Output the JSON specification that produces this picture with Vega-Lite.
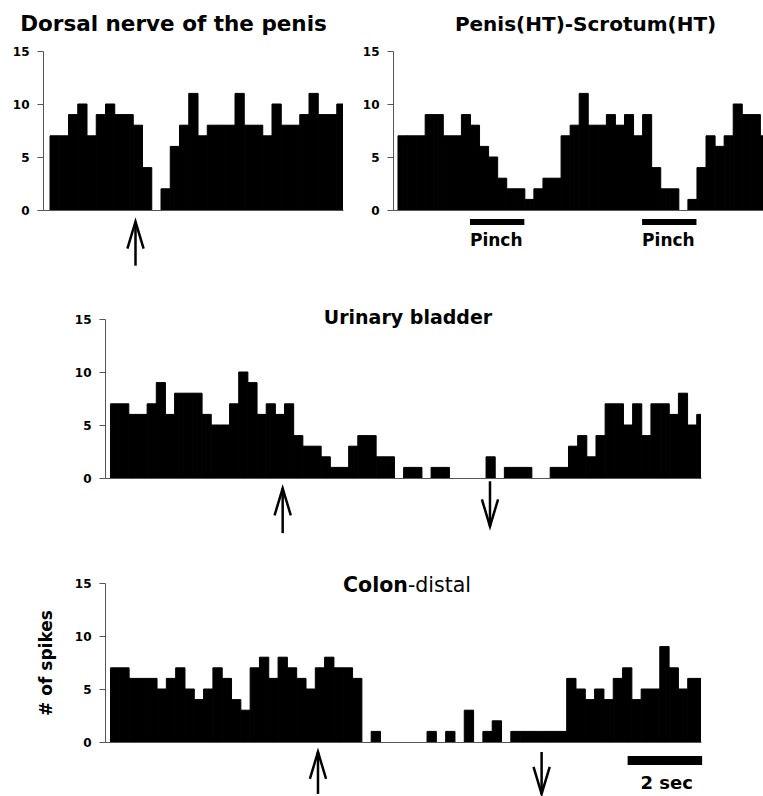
{
  "$schema": "https://vega.github.io/schema/vega-lite/v6.json",
  "background": "white",
  "padding": {"left": 12, "top": 13, "right": 0, "bottom": 0},
  "config": {
    "view": {"stroke": null},
    "axis": {"labelFont": "DejaVu Sans", "labelFontWeight": "bold", "labelFontSize": 12, "labelColor": "black", "domainColor": "#555", "tickColor": "#555", "tickSize": 6, "labelPadding": 8, "grid": false, "titleFont": "DejaVu Sans"}
  },
  "datasets": {
    "p1": [
      {"t":0,"n":7},{"t":0.25,"n":7},{"t":0.5,"n":9},{"t":0.75,"n":10},{"t":1,"n":7},{"t":1.25,"n":9},{"t":1.5,"n":10},{"t":1.75,"n":9},
      {"t":2,"n":9},{"t":2.25,"n":8},{"t":2.5,"n":4},{"t":2.75,"n":0},{"t":3,"n":2},{"t":3.25,"n":6},{"t":3.5,"n":8},{"t":3.75,"n":11},
      {"t":4,"n":7},{"t":4.25,"n":8},{"t":4.5,"n":8},{"t":4.75,"n":8},{"t":5,"n":11},{"t":5.25,"n":8},{"t":5.5,"n":8},{"t":5.75,"n":7},
      {"t":6,"n":10},{"t":6.25,"n":8},{"t":6.5,"n":8},{"t":6.75,"n":9},{"t":7,"n":11},{"t":7.25,"n":9},{"t":7.5,"n":9},{"t":7.75,"n":10}
    ],
    "p2": [
      {"t":0,"n":7},{"t":0.25,"n":7},{"t":0.5,"n":7},{"t":0.75,"n":9},{"t":1,"n":9},{"t":1.25,"n":7},{"t":1.5,"n":7},{"t":1.75,"n":9},
      {"t":2,"n":8},{"t":2.25,"n":6},{"t":2.5,"n":5},{"t":2.75,"n":3},{"t":3,"n":2},{"t":3.25,"n":2},{"t":3.5,"n":1},{"t":3.75,"n":2},
      {"t":4,"n":3},{"t":4.25,"n":3},{"t":4.5,"n":7},{"t":4.75,"n":8},{"t":5,"n":11},{"t":5.25,"n":8},{"t":5.5,"n":8},{"t":5.75,"n":9},
      {"t":6,"n":8},{"t":6.25,"n":9},{"t":6.5,"n":7},{"t":6.75,"n":9},{"t":7,"n":4},{"t":7.25,"n":2},{"t":7.5,"n":2},{"t":7.75,"n":0},
      {"t":8,"n":1},{"t":8.25,"n":4},{"t":8.5,"n":7},{"t":8.75,"n":6},{"t":9,"n":7},{"t":9.25,"n":10},{"t":9.5,"n":9},{"t":9.75,"n":9},
      {"t":10,"n":7}
    ],
    "p3": [
      {"t":0,"n":7},{"t":0.25,"n":7},{"t":0.5,"n":6},{"t":0.75,"n":6},{"t":1,"n":7},{"t":1.25,"n":9},{"t":1.5,"n":6},{"t":1.75,"n":8},
      {"t":2,"n":8},{"t":2.25,"n":8},{"t":2.5,"n":6},{"t":2.75,"n":5},{"t":3,"n":5},{"t":3.25,"n":7},{"t":3.5,"n":10},{"t":3.75,"n":9},
      {"t":4,"n":6},{"t":4.25,"n":7},{"t":4.5,"n":6},{"t":4.75,"n":7},{"t":5,"n":4},{"t":5.25,"n":3},{"t":5.5,"n":3},{"t":5.75,"n":2},
      {"t":6,"n":1},{"t":6.25,"n":1},{"t":6.5,"n":3},{"t":6.75,"n":4},{"t":7,"n":4},{"t":7.25,"n":2},{"t":7.5,"n":2},{"t":7.75,"n":0},
      {"t":8,"n":1},{"t":8.25,"n":1},{"t":8.5,"n":0},{"t":8.75,"n":1},{"t":9,"n":1},{"t":9.25,"n":0},{"t":9.5,"n":0},{"t":9.75,"n":0},
      {"t":10,"n":0},{"t":10.25,"n":2},{"t":10.5,"n":0},{"t":10.75,"n":1},{"t":11,"n":1},{"t":11.25,"n":1},{"t":11.5,"n":0},{"t":11.75,"n":0},
      {"t":12,"n":1},{"t":12.25,"n":1},{"t":12.5,"n":3},{"t":12.75,"n":4},{"t":13,"n":2},{"t":13.25,"n":4},{"t":13.5,"n":7},{"t":13.75,"n":7},
      {"t":14,"n":5},{"t":14.25,"n":7},{"t":14.5,"n":4},{"t":14.75,"n":7},{"t":15,"n":7},{"t":15.25,"n":6},{"t":15.5,"n":8},{"t":15.75,"n":5},
      {"t":16,"n":6}
    ],
    "p4": [
      {"t":0,"n":7},{"t":0.25,"n":7},{"t":0.5,"n":6},{"t":0.75,"n":6},{"t":1,"n":6},{"t":1.25,"n":5},{"t":1.5,"n":6},{"t":1.75,"n":7},
      {"t":2,"n":5},{"t":2.25,"n":4},{"t":2.5,"n":5},{"t":2.75,"n":7},{"t":3,"n":6},{"t":3.25,"n":4},{"t":3.5,"n":3},{"t":3.75,"n":7},
      {"t":4,"n":8},{"t":4.25,"n":6},{"t":4.5,"n":8},{"t":4.75,"n":7},{"t":5,"n":6},{"t":5.25,"n":5},{"t":5.5,"n":7},{"t":5.75,"n":8},
      {"t":6,"n":7},{"t":6.25,"n":7},{"t":6.5,"n":6},{"t":6.75,"n":0},{"t":7,"n":1},{"t":7.25,"n":0},{"t":7.5,"n":0},{"t":7.75,"n":0},
      {"t":8,"n":0},{"t":8.25,"n":0},{"t":8.5,"n":1},{"t":8.75,"n":0},{"t":9,"n":1},{"t":9.25,"n":0},{"t":9.5,"n":3},{"t":9.75,"n":0},
      {"t":10,"n":1},{"t":10.25,"n":2},{"t":10.5,"n":0},{"t":10.75,"n":1},{"t":11,"n":1},{"t":11.25,"n":1},{"t":11.5,"n":1},{"t":11.75,"n":1},
      {"t":12,"n":1},{"t":12.25,"n":6},{"t":12.5,"n":5},{"t":12.75,"n":4},{"t":13,"n":5},{"t":13.25,"n":4},{"t":13.5,"n":6},{"t":13.75,"n":7},
      {"t":14,"n":4},{"t":14.25,"n":5},{"t":14.5,"n":5},{"t":14.75,"n":9},{"t":15,"n":7},{"t":15.25,"n":5},{"t":15.5,"n":6},{"t":15.75,"n":6}
    ]
  },
  "spacing": 41,
  "vconcat": [
    {
      "hconcat": [
        {
          "width": 300, "height": 159,
          "layer": [
            {
              "data": {"name": "p1"},
              "transform": [{"filter": "datum.n > 0"}],
              "mark": {"type": "bar", "color": "black", "stroke": "black", "strokeWidth": 1, "binSpacing": 0, "clip": true},
              "encoding": {
                "x": {"field": "t", "type": "quantitative", "bin": {"binned": true, "step": 0.25}, "scale": {"domain": [-0.176, 7.932], "nice": false, "zero": false}, "axis": {"labels": false, "ticks": false, "title": null, "domain": true}},
                "y": {"field": "n", "type": "quantitative", "scale": {"domain": [0, 15], "nice": false}, "axis": {"values": [0, 5, 10, 15], "title": null}}
              }
            },
            {
              "data": {"values": [{"t": 2.324}]},
              "mark": {"type": "rule", "color": "black", "strokeWidth": 2.5},
              "encoding": {"x": {"field": "t", "type": "quantitative"}, "y": {"datum": -1.1}, "y2": {"datum": -5.25}}
            },
            {
              "data": {"values": [{"t": 2.324}]},
              "mark": {"type": "point", "shape": "M-0.6,2L0,0L0.6,2", "size": 729, "filled": false, "stroke": "black", "strokeWidth": 2.5, "opacity": 1},
              "encoding": {"x": {"field": "t", "type": "quantitative"}, "y": {"datum": -1.1}}
            },
            {
              "data": {"values": [{"label": "Dorsal nerve of the penis"}]},
              "mark": {"type": "text", "font": "DejaVu Sans", "fontWeight": "bold", "fontSize": 21.5, "align": "center", "baseline": "alphabetic", "color": "black"},
              "encoding": {"x": {"datum": 3.351}, "y": {"datum": 16.89}, "text": {"field": "label"}}
            }
          ]
        },
        {
          "width": 370, "height": 159,
          "layer": [
            {
              "data": {"name": "p2"},
              "transform": [{"filter": "datum.n > 0"}],
              "mark": {"type": "bar", "color": "black", "stroke": "black", "strokeWidth": 1, "binSpacing": 0, "clip": true},
              "encoding": {
                "x": {"field": "t", "type": "quantitative", "bin": {"binned": true, "step": 0.25}, "scale": {"domain": [-0.124, 10.086], "nice": false, "zero": false}, "axis": {"labels": false, "ticks": false, "title": null, "domain": true}},
                "y": {"field": "n", "type": "quantitative", "scale": {"domain": [0, 15], "nice": false}, "axis": {"values": [0, 5, 10, 15], "title": null}}
              }
            },
            {
              "data": {"values": [{"start": 2.0, "end": 3.5, "label": "Pinch"}, {"start": 6.75, "end": 8.25, "label": "Pinch"}]},
              "layer": [
                {
                  "mark": {"type": "rule", "color": "black", "strokeWidth": 6},
                  "encoding": {"x": {"field": "start", "type": "quantitative"}, "x2": {"field": "end"}, "y": {"datum": -1.13}}
                },
                {
                  "mark": {"type": "text", "font": "DejaVu Sans", "fontWeight": "bold", "fontSize": 17, "align": "left", "baseline": "alphabetic", "color": "black"},
                  "encoding": {"x": {"field": "start", "type": "quantitative"}, "y": {"datum": -3.37}, "text": {"field": "label"}}
                }
              ]
            },
            {
              "data": {"values": [{"label": "Penis(HT)-Scrotum(HT)"}]},
              "mark": {"type": "text", "font": "DejaVu Sans", "fontWeight": "bold", "fontSize": 20, "align": "center", "baseline": "alphabetic", "color": "black"},
              "encoding": {"x": {"datum": 5.19}, "y": {"datum": 16.85}, "text": {"field": "label"}}
            }
          ]
        }
      ],
      "spacing": 50,
      "bounds": "flush"
    },
    {
      "hconcat": [
        {"width": 62, "height": 1, "data": {"values": []}, "mark": "point"},
        {
          "width": 596, "height": 159,
          "layer": [
            {
              "data": {"name": "p3"},
              "transform": [{"filter": "datum.n > 0"}],
              "mark": {"type": "bar", "color": "black", "stroke": "black", "strokeWidth": 1, "binSpacing": 0, "clip": true},
              "encoding": {
                "x": {"field": "t", "type": "quantitative", "bin": {"binned": true, "step": 0.25}, "scale": {"domain": [-0.136, 16.13], "nice": false, "zero": false}, "axis": {"labels": false, "ticks": false, "title": null, "domain": true}},
                "y": {"field": "n", "type": "quantitative", "scale": {"domain": [0, 15], "nice": false}, "axis": {"values": [0, 5, 10, 15], "title": null}}
              }
            },
            {
              "data": {"values": [{"t": 4.713}]},
              "layer": [
                {"mark": {"type": "rule", "color": "black", "strokeWidth": 2.5}, "encoding": {"x": {"field": "t", "type": "quantitative"}, "y": {"datum": -0.97}, "y2": {"datum": -5.2}}},
                {"mark": {"type": "point", "shape": "M-0.6,2L0,0L0.6,2", "size": 729, "filled": false, "stroke": "black", "strokeWidth": 2.5, "opacity": 1}, "encoding": {"x": {"field": "t", "type": "quantitative"}, "y": {"datum": -0.97}}}
              ]
            },
            {
              "data": {"values": [{"t": 10.371}]},
              "layer": [
                {"mark": {"type": "rule", "color": "black", "strokeWidth": 2.5}, "encoding": {"x": {"field": "t", "type": "quantitative"}, "y": {"datum": -0.31}, "y2": {"datum": -4.56}}},
                {"mark": {"type": "point", "shape": "M-0.6,-2L0,0L0.6,-2", "size": 729, "filled": false, "stroke": "black", "strokeWidth": 2.5, "opacity": 1}, "encoding": {"x": {"field": "t", "type": "quantitative"}, "y": {"datum": -4.56}}}
              ]
            },
            {
              "data": {"values": [{"label": "Urinary bladder"}]},
              "mark": {"type": "text", "font": "DejaVu Sans", "fontWeight": "bold", "fontSize": 19, "align": "center", "baseline": "alphabetic", "color": "black"},
              "encoding": {"x": {"datum": 8.133}, "y": {"datum": 14.53}, "text": {"field": "label"}}
            }
          ]
        }
      ],
      "spacing": 0,
      "bounds": "flush"
    },
    {
      "hconcat": [
        {"width": 62, "height": 1, "data": {"values": []}, "mark": "point"},
        {
          "width": 596, "height": 159,
          "layer": [
            {
              "data": {"name": "p4"},
              "transform": [{"filter": "datum.n > 0"}],
              "mark": {"type": "bar", "color": "black", "stroke": "black", "strokeWidth": 1, "binSpacing": 0, "clip": true},
              "encoding": {
                "x": {"field": "t", "type": "quantitative", "bin": {"binned": true, "step": 0.25}, "scale": {"domain": [-0.134, 15.87], "nice": false, "zero": false}, "axis": {"labels": false, "ticks": false, "title": null, "domain": true}},
                "y": {"field": "n", "type": "quantitative", "scale": {"domain": [0, 15], "nice": false}, "axis": {"values": [0, 5, 10, 15], "title": "# of spikes", "titleFontSize": 17, "titleFontWeight": "bold", "titleColor": "black", "titlePadding": 19}}
              }
            },
            {
              "data": {"values": [{"t": 5.585}]},
              "layer": [
                {"mark": {"type": "rule", "color": "black", "strokeWidth": 2.5}, "encoding": {"x": {"field": "t", "type": "quantitative"}, "y": {"datum": -0.94}, "y2": {"datum": -4.9}}},
                {"mark": {"type": "point", "shape": "M-0.6,2L0,0L0.6,2", "size": 729, "filled": false, "stroke": "black", "strokeWidth": 2.5, "opacity": 1}, "encoding": {"x": {"field": "t", "type": "quantitative"}, "y": {"datum": -0.94}}}
              ]
            },
            {
              "data": {"values": [{"t": 11.59}]},
              "layer": [
                {"mark": {"type": "rule", "color": "black", "strokeWidth": 2.5}, "encoding": {"x": {"field": "t", "type": "quantitative"}, "y": {"datum": -0.94}, "y2": {"datum": -4.9}}},
                {"mark": {"type": "point", "shape": "M-0.6,-2L0,0L0.6,-2", "size": 729, "filled": false, "stroke": "black", "strokeWidth": 2.5, "opacity": 1}, "encoding": {"x": {"field": "t", "type": "quantitative"}, "y": {"datum": -4.9}}}
              ]
            },
            {
              "data": {"values": [{"start": 13.9, "end": 15.9, "label": "2 sec"}]},
              "layer": [
                {"mark": {"type": "rule", "color": "black", "strokeWidth": 9}, "encoding": {"x": {"field": "start", "type": "quantitative"}, "x2": {"field": "end"}, "y": {"datum": -1.75}}},
                {"mark": {"type": "text", "font": "DejaVu Sans", "fontWeight": "bold", "fontSize": 18, "align": "center", "baseline": "alphabetic", "color": "black"}, "encoding": {"x": {"datum": 14.95}, "y": {"datum": -4.43}, "text": {"field": "label"}}}
              ]
            },
            {
              "data": {"values": [{"label": "Colon"}]},
              "mark": {"type": "text", "font": "DejaVu Sans", "fontWeight": "bold", "fontSize": 20.5, "align": "right", "baseline": "alphabetic", "color": "black"},
              "encoding": {"x": {"datum": 8.0}, "y": {"datum": 14.12}, "text": {"field": "label"}}
            },
            {
              "data": {"values": [{"label": "-distal"}]},
              "mark": {"type": "text", "font": "DejaVu Sans", "fontWeight": "normal", "fontSize": 20.5, "align": "left", "baseline": "alphabetic", "color": "black"},
              "encoding": {"x": {"datum": 8.0}, "y": {"datum": 14.12}, "text": {"field": "label"}}
            }
          ]
        }
      ],
      "spacing": 0,
      "bounds": "flush"
    }
  ]
}
